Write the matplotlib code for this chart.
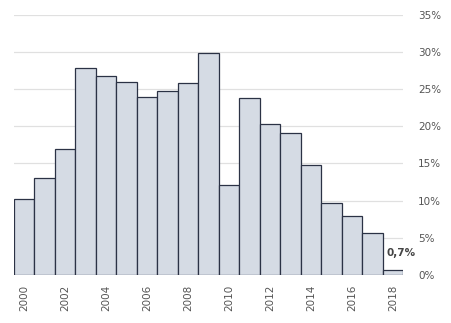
import matplotlib.pyplot as plt
import numpy as np

years = list(range(2000, 2019))
shares = [10.2, 13.0, 16.9, 27.8, 26.8, 25.9, 23.9, 24.8, 25.8, 29.9,
          12.1, 23.8, 20.3, 19.1, 14.8, 9.7, 7.9, 5.6, 0.7]
year_labels = [str(y) if y % 2 == 0 else '' for y in years]
pct_ticks = [0, 5, 10, 15, 20, 25, 30, 35]

fig = plt.figure(figsize=(4.51, 3.23), dpi=100)
ax = fig.add_axes([0.031, 0.1486, 0.8626, 0.806])

x = np.arange(len(years))
ax.bar(x, shares, width=1.0, color='#d5dbe4', edgecolor='#2b3245',
       linewidth=0.9, zorder=3)

# value label on the last bar
ax.text(x[-1] + 0.4, shares[-1] + 1.6, '0,7%', ha='center', va='bottom',
        fontsize=7.5, fontweight='bold', color='#444444', zorder=4)

ax.set_xlim(-0.5, len(years) - 0.5)
ax.set_ylim(0, 35)
ax.set_xticks(x)
ax.set_xticklabels(year_labels, rotation=90, fontsize=7.5, color='#555555')
ax.set_yticks(pct_ticks)
ax.set_yticklabels([f'{p}%' for p in pct_ticks], fontsize=7.5, color='#555555')
ax.yaxis.tick_right()
ax.tick_params(axis='both', length=0)
ax.tick_params(axis='x', pad=7)
ax.tick_params(axis='y', pad=11)
ax.grid(axis='y', color='#e0e0e0', linewidth=0.9, zorder=0)
for s in ax.spines.values():
    s.set_visible(False)

plt.savefig('out.png', dpi=100)
